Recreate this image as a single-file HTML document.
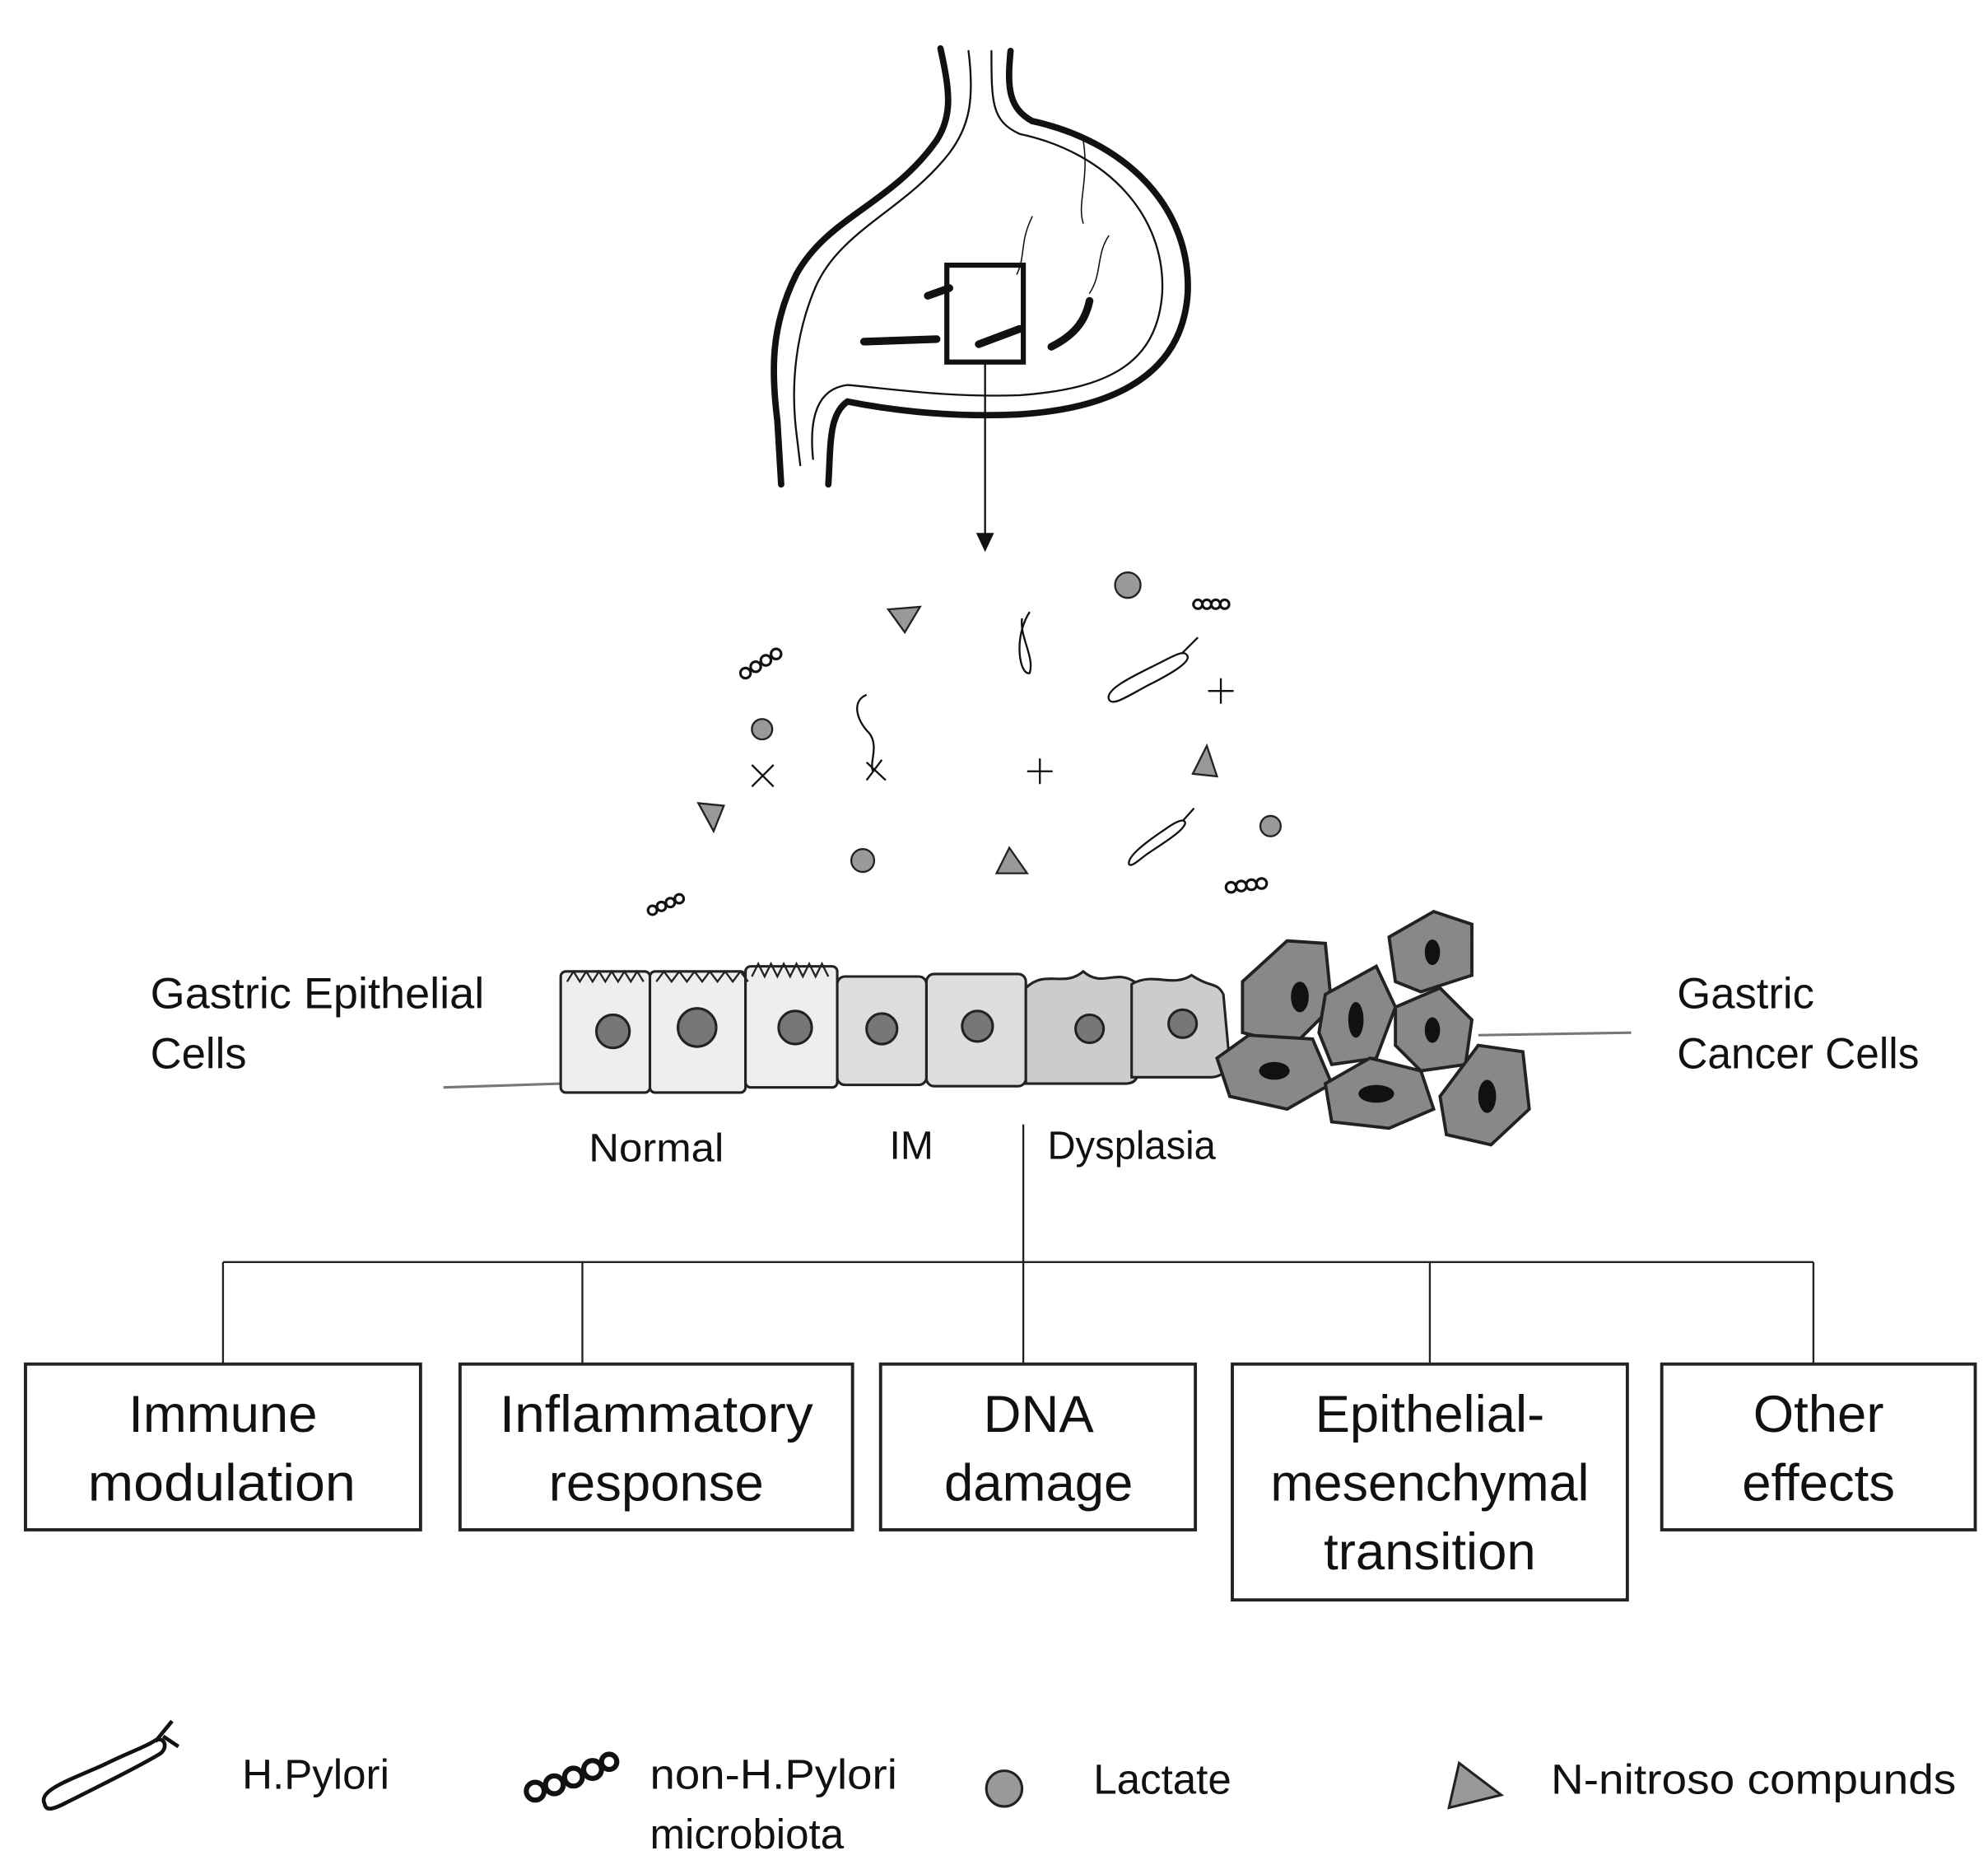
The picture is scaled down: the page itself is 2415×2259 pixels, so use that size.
<!DOCTYPE html>
<html><head><meta charset="utf-8"><style>
html,body{margin:0;padding:0;background:#fff}
svg{display:block}
text{font-family:"Liberation Sans","DejaVu Sans",sans-serif;fill:#111}
</style></head><body>
<svg width="2415" height="2259" viewBox="0 0 1560 1459" preserveAspectRatio="none" xmlns="http://www.w3.org/2000/svg">
<g fill="none" stroke="#111" stroke-linecap="round">
<path d="M738 38 C745 70 748 90 735 110 C700 160 650 170 625 215 C605 255 605 290 610 330 L613 380" stroke-width="5"/>
<path d="M793 40 C790 70 792 85 810 95 C880 110 935 160 932 230 C928 290 880 320 800 325 C740 328 690 320 665 315 C650 325 652 350 650 380" stroke-width="5"/>
<path d="M760 40 C765 80 760 100 745 120 C710 165 660 180 640 225 C625 260 620 300 625 340 L628 365" stroke-width="1.5"/>
<path d="M778 40 C778 80 778 95 800 105 C870 120 915 170 912 230 C908 285 870 305 800 310 C745 312 700 305 665 302 C640 305 635 330 638 360" stroke-width="1.5"/>
<path d="M850 110 C855 140 845 160 850 175" stroke-width="1"/>
<path d="M810 170 C800 190 805 200 798 215" stroke-width="1"/>
<path d="M870 185 C860 200 865 215 855 230" stroke-width="1"/>
<path d="M678 268 L735 266" stroke-width="6"/>
<path d="M728 232 L745 226" stroke-width="6"/>
<path d="M768 270 L800 258" stroke-width="6"/>
<path d="M825 272 C845 262 852 250 855 236" stroke-width="6"/>
<rect x="743" y="208" width="60" height="76" stroke-width="4"/>
<line x1="773" y1="284" x2="773" y2="420" stroke-width="1.5"/>
</g>
<polygon points="766,418 780,418 773,433" fill="#111"/>
<g fill="#999" stroke="#222" stroke-width="1.5">
<polygon points="697,478 722,476 710,496"/>
<polygon points="548,630 568,632 560,652"/>
<polygon points="782,685 806,685 792,665"/>
<polygon points="936,607 955,609 947,585"/>
<circle cx="885" cy="459" r="10"/><circle cx="598" cy="572" r="8"/>
<circle cx="677" cy="675" r="9"/><circle cx="997" cy="648" r="8"/>
</g>
<g fill="none" stroke="#111" stroke-width="1.5">
<path d="M590 600 L607 617 M607 600 L590 617"/>
<path d="M806 605 L826 605 M816 595 L816 615"/>
<path d="M948 542 L968 542 M958 532 L958 552"/>
<path d="M808 480 C795 500 800 530 808 528 C812 515 800 500 802 485"/>
<path d="M680 545 C668 550 672 565 682 575 C690 585 682 598 685 605 M680 598 L695 612 M692 596 L680 612"/>
<path d="M870 548 C868 540 890 530 910 520 C925 512 930 510 932 515 C933 520 920 528 900 538 C885 546 872 555 870 548 Z M928 512 L940 500"/>
<path d="M886 678 C884 672 900 660 915 650 C925 643 930 642 930 646 C928 652 915 660 900 670 C892 676 888 680 886 678 Z M928 644 L937 634"/>
<g stroke-width="2"><circle cx="585" cy="528" r="4"/><circle cx="593" cy="523" r="4"/><circle cx="601" cy="518" r="4"/><circle cx="609" cy="513" r="4"/>
<circle cx="512" cy="714" r="3.5"/><circle cx="519" cy="711" r="3.5"/><circle cx="526" cy="708" r="3.5"/><circle cx="533" cy="705" r="3.5"/>
<circle cx="940" cy="474" r="3.5"/><circle cx="947" cy="474" r="3.5"/><circle cx="954" cy="474" r="3.5"/><circle cx="961" cy="474" r="3.5"/>
<circle cx="966" cy="696" r="4"/><circle cx="974" cy="695" r="4"/><circle cx="982" cy="694" r="4"/><circle cx="990" cy="693" r="4"/></g>
</g>
<path d="M348 853 L440 850 M1160 812 L1280 810" stroke="#777" stroke-width="2" fill="none"/>
<g stroke="#222" stroke-width="2">
<rect x="440" y="762" width="70" height="95" rx="4" fill="#eee"/>
<rect x="510" y="762" width="75" height="95" rx="4" fill="#eee"/>
<rect x="585" y="758" width="72" height="95" rx="4" fill="#eee"/>
<rect x="657" y="766" width="70" height="85" rx="6" fill="#ddd"/>
<rect x="727" y="764" width="78" height="88" rx="6" fill="#ddd"/>
<path d="M805 850 L805 775 C820 760 835 775 850 762 C865 775 875 760 890 770 L893 840 Q893 850 883 850 Z" fill="#ccc"/>
<path d="M888 845 L888 772 C905 762 920 775 935 765 C950 775 955 770 960 780 L965 835 Q960 845 950 845 Z" fill="#ccc"/>
<g fill="#777"><circle cx="481" cy="809" r="13"/><circle cx="547" cy="806" r="15"/><circle cx="624" cy="806" r="13"/><circle cx="692" cy="807" r="12"/><circle cx="767" cy="805" r="12"/><circle cx="855" cy="807" r="11"/><circle cx="928" cy="803" r="11"/></g>
</g>
<path d="M445 770 l5 -8 5 8 5 -8 5 8 5 -8 5 8 5 -8 5 8 5 -8 5 8 5 -8 5 8 M515 770 l6 -8 6 8 6 -8 6 8 6 -8 6 8 6 -8 6 8 6 -8 6 8 6 -8 6 8 M590 766 l5 -10 5 10 5 -10 5 10 5 -10 5 10 5 -10 5 10 5 -10 5 10 5 -10 5 10" fill="none" stroke="#222" stroke-width="1.5"/>
<g fill="#888" stroke="#222" stroke-width="2.5">
<path d="M975 770 L1010 738 L1040 740 L1045 790 L1015 820 L975 810 Z"/>
<path d="M1090 735 L1125 715 L1155 725 L1155 765 L1115 778 L1095 770 Z"/>
<path d="M1040 780 L1080 758 L1095 790 L1080 830 L1045 835 L1035 810 Z"/>
<path d="M1095 790 L1130 775 L1155 800 L1150 835 L1115 840 L1095 820 Z"/>
<path d="M955 830 L980 812 L1030 815 L1045 850 L1010 870 L965 860 Z"/>
<path d="M1040 850 L1075 830 L1115 840 L1125 870 L1090 885 L1045 880 Z"/>
<path d="M1130 860 L1160 820 L1195 825 L1200 870 L1170 898 L1135 890 Z"/>
</g>
<g fill="#111"><ellipse cx="1020" cy="782" rx="7" ry="12"/><ellipse cx="1124" cy="747" rx="6" ry="10"/><ellipse cx="1064" cy="800" rx="6" ry="14"/><ellipse cx="1124" cy="808" rx="6" ry="10"/><ellipse cx="1000" cy="840" rx="12" ry="7"/><ellipse cx="1080" cy="858" rx="14" ry="7"/><ellipse cx="1167" cy="860" rx="7" ry="13"/></g>
<g font-size="34"><text x="118" y="791" textLength="262" lengthAdjust="spacingAndGlyphs">Gastric Epithelial</text><text x="118" y="838">Cells</text>
<text x="1316" y="791">Gastric</text><text x="1316" y="838" textLength="190" lengthAdjust="spacingAndGlyphs">Cancer Cells</text></g>
<g font-size="31"><text x="462" y="911" textLength="106" lengthAdjust="spacingAndGlyphs">Normal</text><text x="698" y="909">IM</text><text x="822" y="909" textLength="132" lengthAdjust="spacingAndGlyphs">Dysplasia</text></g>
<g stroke="#222" stroke-width="1.5" fill="none">
<path d="M803 882 L803 1070 M175 990 L1423 990 M175 990 L175 1070 M457 990 L457 1070 M1122 990 L1122 1070 M1423 990 L1423 1070"/>
</g>
<g stroke="#222" stroke-width="2.5" fill="#fff">
<rect x="20" y="1070" width="310" height="130"/><rect x="361" y="1070" width="308" height="130"/>
<rect x="691" y="1070" width="247" height="130"/><rect x="967" y="1070" width="310" height="185"/>
<rect x="1304" y="1070" width="246" height="130"/>
</g>
<g font-size="41" text-anchor="middle">
<text x="175" y="1123">Immune</text><text x="174" y="1177" textLength="210" lengthAdjust="spacingAndGlyphs">modulation</text>
<text x="515" y="1123" textLength="246" lengthAdjust="spacingAndGlyphs">Inflammatory</text><text x="515" y="1177">response</text>
<text x="815" y="1123">DNA</text><text x="815" y="1177">damage</text>
<text x="1122" y="1123">Epithelial-</text><text x="1122" y="1177" textLength="250" lengthAdjust="spacingAndGlyphs">mesenchymal</text><text x="1122" y="1231">transition</text>
<text x="1427" y="1123">Other</text><text x="1427" y="1177">effects</text>
</g>
<g fill="none" stroke="#111" stroke-width="3">
<path d="M35 1415 C30 1405 50 1398 80 1385 C100 1375 115 1370 122 1365 C130 1362 132 1372 125 1376 C110 1385 80 1400 50 1415 C40 1420 36 1420 35 1415 Z"/>
<path d="M122 1366 L135 1350 M128 1362 L140 1370"/>
<g stroke-width="4"><circle cx="420" cy="1405" r="7"/><circle cx="435" cy="1400" r="7"/><circle cx="450" cy="1394" r="7"/><circle cx="465" cy="1388" r="7"/><circle cx="478" cy="1382" r="6"/></g>
</g>
<circle cx="788" cy="1403" r="14" fill="#999" stroke="#222" stroke-width="2"/>
<polygon points="1137,1418 1145,1383 1178,1408" fill="#999" stroke="#222" stroke-width="2"/>
<g font-size="33"><text x="190" y="1403">H.Pylori</text><text x="510" y="1403" textLength="194" lengthAdjust="spacingAndGlyphs">non-H.Pylori</text><text x="510" y="1450">microbiota</text>
<text x="858" y="1407">Lactate</text><text x="1217" y="1407" textLength="318" lengthAdjust="spacingAndGlyphs">N-nitroso compunds</text></g>
</svg>
</body></html>
